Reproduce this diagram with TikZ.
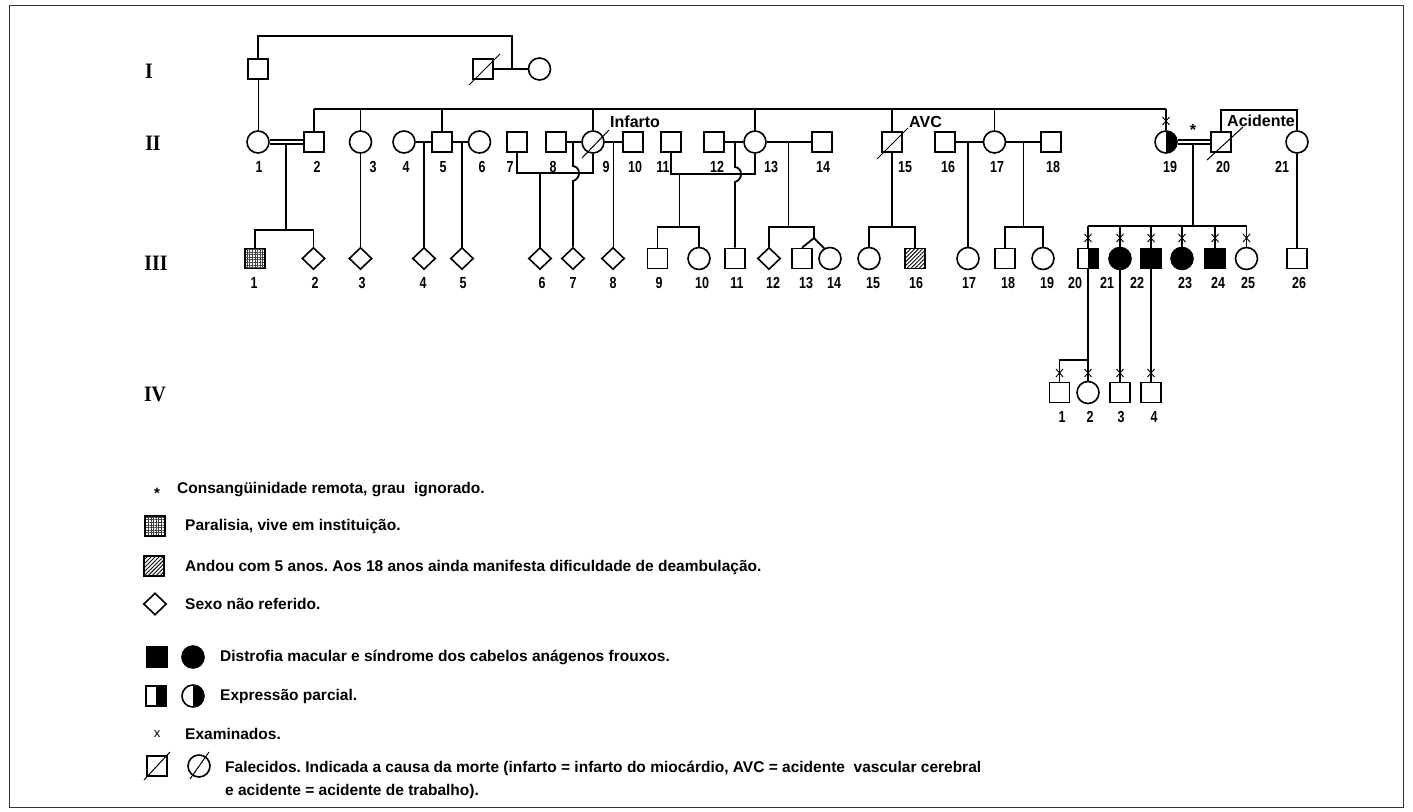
\documentclass[tikz,border=0pt]{standalone}
\usepackage{fontspec}
\setmainfont{Liberation Sans}
\newfontfamily\genfont[FakeStretch=0.9]{Liberation Serif}
\newfontfamily\numfont[FakeStretch=0.78]{Liberation Sans}
\usetikzlibrary{shapes.geometric,patterns.meta}
\frenchspacing
\tikzset{
  x=1pt,y=-1pt,
  sq/.style={rectangle,draw,line width=1.6pt,minimum size=20pt,inner sep=0pt},
  ci/.style={circle,draw,line width=1.6pt,minimum size=22pt,inner sep=0pt},
  dm/.style={diamond,draw,line width=1.6pt,minimum width=23pt,minimum height=22pt,inner sep=0pt},
  halfR/.style={path picture={\fill (path picture bounding box.north) rectangle (path picture bounding box.south east);}},
  gridfill/.style={pattern={Hatch[angle=0,distance=2.6pt,line width=0.6pt]},pattern color=black!75},
  hatchfill/.style={pattern={Lines[angle=45,distance=2.8pt,line width=0.9pt]}},
  thk/.style={line width=1.8pt},
  thn/.style={line width=0.9pt},
  sib/.style={line width=1.3pt},
  dbl/.style={line width=1.2pt},
  decl/.style={line width=1pt},
  num/.style={font=\numfont\bfseries\fontsize{16}{16}\selectfont,inner sep=0pt},
  gen/.style={font=\genfont\bfseries\fontsize{22}{22}\selectfont,inner sep=0pt},
  cause/.style={font=\bfseries\fontsize{16}{16}\selectfont,inner sep=0pt,anchor=west},
  leg/.style={font=\bfseries\fontsize{15.5}{15.5}\selectfont\frenchspacing,inner sep=0pt,anchor=west},
  xmark/.pic={\draw[line width=0.9pt] (-3.5,-4) -- (3.5,4) (-3.5,4) -- (3.5,-4);}
}
\begin{document}
\begin{tikzpicture}
\useasboundingbox (0,0) rectangle (1413,811);
\draw[line width=0.8pt,black!80] (9,5) rectangle (1403,807);

% generation labels
\node[gen] (gI) at (149,71) {I};
\node[gen] (gII) at (153,143) {II};
\node[gen] (gIII) at (156,263) {III};
\node[gen] (gIV) at (155,394) {IV};

% generation I
\node[sq] (I1) at (258,69) {};
\node[sq] (I2) at (483,69) {};
\node[ci] (I3) at (539.5,69) {};

% generation II
\node[ci] (II1) at (258,142) {};
\node[sq] (II2) at (314,142) {};
\node[ci] (II3) at (360.5,142) {};
\node[ci] (II4) at (404,142) {};
\node[sq] (II5) at (442,142) {};
\node[ci] (II6) at (479.5,142) {};
\node[sq] (II7) at (517,142) {};
\node[sq] (II8) at (556,142) {};
\node[ci] (II9) at (593,142) {};
\node[sq] (II10) at (633,142) {};
\node[sq] (II11) at (671,142) {};
\node[sq] (II12) at (714,142) {};
\node[ci] (II13) at (755,142) {};
\node[sq] (II14) at (822,142) {};
\node[sq] (II15) at (892,142) {};
\node[sq] (II16) at (945,142) {};
\node[ci] (II17) at (994.5,142) {};
\node[sq] (II18) at (1051,142) {};
\node[ci,halfR] (II19) at (1166,142) {};
\node[sq] (II20) at (1221,142) {};
\node[ci] (II21) at (1297,142) {};

% generation III
\node[sq,gridfill] (III1) at (255,258.5) {};
\node[dm] (III2) at (313.5,258.5) {};
\node[dm] (III3) at (360.5,258.5) {};
\node[dm] (III4) at (424,258.5) {};
\node[dm] (III5) at (462,258.5) {};
\node[dm] (III6) at (540,258.5) {};
\node[dm] (III7) at (573,258.5) {};
\node[dm] (III8) at (613,258.5) {};
\node[sq] (III9) at (657.5,258.5) {};
\node[ci] (III10) at (699,258.5) {};
\node[sq] (III11) at (735,258.5) {};
\node[dm] (III12) at (769,258.5) {};
\node[sq] (III13) at (802,258.5) {};
\node[ci] (III14) at (830,258.5) {};
\node[ci] (III15) at (869,258.5) {};
\node[sq,hatchfill] (III16) at (915,258.5) {};
\node[ci] (III17) at (968,258.5) {};
\node[sq] (III18) at (1005,258.5) {};
\node[ci] (III19) at (1043,258.5) {};
\node[sq,halfR] (III20) at (1088,258.5) {};
\node[ci,fill=black] (III21) at (1120,258.5) {};
\node[sq,fill=black] (III22) at (1151,258.5) {};
\node[ci,fill=black] (III23) at (1182,258.5) {};
\node[sq,fill=black] (III24) at (1215,258.5) {};
\node[ci] (III25) at (1246.5,258.5) {};
\node[sq] (III26) at (1297,258.5) {};

% generation IV
\node[sq] (IV1) at (1059.5,392.5) {};
\node[ci] (IV2) at (1088,392.5) {};
\node[sq] (IV3) at (1120,392.5) {};
\node[sq] (IV4) at (1151,392.5) {};

% number labels
\foreach \x/\t in {259/1,317/2,373/3,406/4,443/5,482/6,510/7,553/8,606/9,635/10,663/11,717/12,771/13,823/14,905/15,948/16,997/17,1053/18,1170/19,1223/20,1282/21}
  \node[num] (lII\t) at (\x,167) {\t};
\foreach \x/\t in {254/1,315/2,362/3,423/4,463/5,542/6,573/7,613/8,659/9,702/10,737/11,773/12,806/13,834/14,873/15,916/16,969/17,1008/18,1047/19,1075/20,1107/21,1137/22,1185/23,1218/24,1248/25,1299/26}
  \node[num] (lIII\t) at (\x,283) {\t};
\foreach \x/\t in {1062/1,1090/2,1121/3,1154/4}
  \node[num] (lIV\t) at (\x,417) {\t};

% cause of death labels
\node[cause] (cInf) at (610,122) {Infarto};
\node[cause] (cAVC) at (909,122) {AVC};
\node[cause] (cAci) at (1227,121) {Acidente};
\node[font=\bfseries\fontsize{16}{16}\selectfont,inner sep=0pt] (star) at (1193,130) {*};

% deceased strokes
\draw[decl] ([shift={(-14,16)}]I2.center) -- ([shift={(17,-15)}]I2.center);
\draw[decl] ([shift={(-11,16)}]II9.center) -- ([shift={(16,-12)}]II9.center);
\draw[decl] ([shift={(-15,17)}]II15.center) -- ([shift={(16,-14)}]II15.center);
\draw[decl] ([shift={(-14,18)}]II20.center) -- ([shift={(22,-15)}]II20.center);

% generation I connections
\coordinate (mI) at (512,69);
\coordinate (tI) at (512,36);
\draw[thk] (I2.east) -- (I3.west);
\draw[thk] (I1.north) |- (tI) -- (mI);
\draw[thn] (I1.south) -- (II1.north);

% big sibship
\coordinate (S) at (0,109);
\draw[sib] (II2.north |- S) -- (II19.north |- S);
\foreach \n in {II2,II3,II5,II9,II13,II15,II17,II19}
  \draw[sib] (\n.north) -- (\n.north |- S);

% II1 = II2
\draw[dbl] ([yshift=2pt]II1.east) -- ([yshift=2pt]II2.west);
\draw[dbl] ([yshift=-2pt]II1.east) -- ([yshift=-2pt]II2.west);
\coordinate (c12) at (286,144);
\coordinate (s12) at (286,230);
\draw[thk] (c12) -- (s12);
\draw[thk] (III1.north) |- (s12) -| (III2.north);

% II3
\draw[thk] (II3.south) -- (III3.north);

% II4 - II5 - II6
\draw[thk] (II4.east) -- (II5.west);
\draw[thk] (II5.east) -- (II6.west);
\coordinate (m45) at (424,142);
\coordinate (m56) at (462,142);
\draw[thk] (m45) -- (III4.north);
\draw[thk] (m56) -- (III5.north);

% II7 - II9
\coordinate (h79) at (593,173);
\coordinate (d79) at (540,173);
\draw[thk] (II7.south) |- (h79) -- (II9.south);
\draw[thk] (d79) -- (III6.north);

% II8 - II9
\coordinate (m89) at (573,142);
\draw[thk] (II8.east) -- (II9.west);
\draw[thk] (m89) -- (573,166) .. controls (581,167) and (581,179) .. (573,181) -- (III7.north);

% II9 - II10
\coordinate (m910) at (613,142);
\draw[thk] (II9.east) -- (II10.west);
\draw[thn] (m910) -- (III8.north);

% II11 - II13
\coordinate (h1113) at (755,174);
\coordinate (d1113) at (679,174);
\coordinate (s910) at (679,227);
\draw[thk] (II11.south) |- (h1113) -- (II13.south);
\draw[thn] (d1113) -- (s910);
\draw[thk] (III9.north) |- (s910) -| (III10.north);

% II12 - II13
\coordinate (m1213) at (735,142);
\draw[thk] (II12.east) -- (II13.west);
\draw[thk] (m1213) -- (735,167) .. controls (743,168) and (743,180) .. (735,182) -- (III11.north);

% II13 - II14
\coordinate (m1314) at (788,142);
\coordinate (s1314) at (788,227);
\coordinate (tw) at (814,238);
\draw[thk] (II13.east) -- (II14.west);
\draw[thn] (m1314) -- (s1314);
\draw[thk] (III12.north) |- (s1314) -| (tw);
\draw[thk] (III13.north) -- (tw) -- (III14.120);

% II15
\coordinate (s15) at (892,227);
\draw[thk] (II15.south) -- (s15);
\draw[thk] (III15.north) |- (s15) -| (III16.north);

% II16 - II17 - II18
\coordinate (m1617) at (968,142);
\coordinate (m1718) at (1023,142);
\coordinate (s1718) at (1023,227);
\draw[thk] (II16.east) -- (II17.west);
\draw[thk] (II17.east) -- (II18.west);
\draw[thk] (m1617) -- (III17.north);
\draw[thn] (m1718) -- (s1718);
\draw[thk] (III18.north) |- (s1718) -| (III19.north);

% II19 = II20
\draw[dbl] ([yshift=2pt]II19.east) -- ([yshift=2pt]II20.west);
\draw[dbl] ([yshift=-2pt]II19.east) -- ([yshift=-2pt]II20.west);
\coordinate (c1920) at (1193,144);
\coordinate (s1920) at (1193,226);
\draw[thk] (c1920) -- (s1920);
\draw[thk] (III20.north |- s1920) -- (III25.north |- s1920);
\foreach \n in {III20,III21,III22,III23,III24,III25}
  \draw[thk] (\n.north) -- (\n.north |- s1920);

% II20 - II21
\coordinate (T) at (0,110);
\draw[thk] (II20.north) |- (II21.north |- T) -- (II21.north);
\draw[thk] (II21.south) -- (III26.north);

% generation III -> IV
\coordinate (b20) at (1088,360);
\draw[thk] (III20.south) -- (IV2.north);
\draw[thk] (b20) -| (IV1.north);
\draw[thk] (III21.south) -- (IV3.north);
\draw[thk] (III22.south) -- (IV4.north);

% examined marks
\coordinate (xm19) at (1166,121);
\coordinate (XIII) at (0,238);
\coordinate (XIV) at (0,373);
\pic at (xm19) {xmark};
\foreach \n in {III20,III21,III22,III23,III24,III25}
  \pic at (\n.north |- XIII) {xmark};
\foreach \n in {IV1,IV2,IV3,IV4}
  \pic at (\n.north |- XIV) {xmark};

% legend
\node[font=\bfseries\fontsize{15}{15}\selectfont,inner sep=0pt] (L1s) at (157,493) {*};
\node[leg] (L1) at (177,490) {Consangüinidade remota, grau\ \ ignorado.};
\node[sq,gridfill] (L2s) at (155,526) {};
\node[leg] (L2) at (185,526) {Paralisia, vive em instituição.};
\node[sq,hatchfill] (L3s) at (154,566) {};
\node[leg] (L3) at (185,567) {Andou com 5 anos. Aos 18 anos ainda manifesta dificuldade de deambulação.};
\node[dm] (L4s) at (155,604) {};
\node[leg] (L4) at (185,604) {Sexo não referido.};
\node[sq,fill=black] (L5a) at (157,657) {};
\node[ci,fill=black] (L5b) at (193,657) {};
\node[leg] (L5) at (220,657) {Distrofia macular e síndrome dos cabelos anágenos frouxos.};
\node[sq,halfR] (L6a) at (156,696) {};
\node[ci,halfR] (L6b) at (193,696) {};
\node[leg] (L6) at (220,696) {Expressão parcial.};
\node[font=\fontsize{13}{13}\selectfont,inner sep=0pt] (L7s) at (157,734) {x};
\node[leg] (L7) at (185,734) {Examinados.};
\node[sq] (L8a) at (157,766) {};
\node[ci] (L8b) at (199,766) {};
\draw[decl] ([shift={(-13,14)}]L8a.center) -- ([shift={(13,-14)}]L8a.center);
\draw[decl] ([shift={(-9,13)}]L8b.center) -- ([shift={(10,-14)}]L8b.center);
\node[leg] (L8) at (225,768) {Falecidos. Indicada a causa da morte (infarto = infarto do miocárdio, AVC = acidente\ \ vascular cerebral};
\node[leg] (L8c) at (225,791) {e acidente = acidente de trabalho).};
\end{tikzpicture}
\end{document}
